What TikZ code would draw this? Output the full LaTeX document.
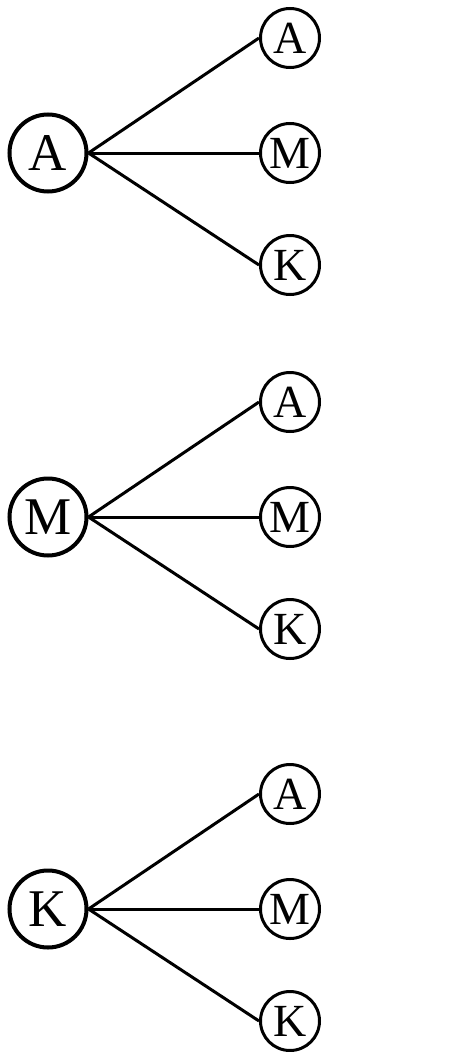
\documentclass[tikz,border=0pt]{standalone}
\usepackage{fontspec}
\setmainfont{Liberation Serif}
\usetikzlibrary{positioning}
\tikzset{
  root/.style={draw=black,circle,line width=4pt,inner sep=0pt,
               minimum size=77pt,font=\fontsize{53}{53}\selectfont},
  leaf/.style={draw=black,circle,line width=3pt,inner sep=0pt,
               minimum size=59pt,font=\fontsize{46}{46}\selectfont},
  link/.style={black,line width=3pt},
}
\begin{document}
\begin{tikzpicture}[x=1pt,y=-1pt]
  \path[use as bounding box] (0,0) rectangle (464,1052);

  % one tree per first letter
  \foreach \r/\y in {A/153,M/517,K/909}{
    \node[root] (root\r) at (48,\y) {\r};
    \node[leaf] (leaf\r A) at (290,\y-115) {A};
    \node[leaf] (leaf\r M) at (290,\y) {M};
    \node[leaf] (leaf\r K) at (290,\y+112) {K};
    \draw[link] (root\r.east) -- (leaf\r A.west);
    \draw[link] (root\r.east) -- (leaf\r M.west);
    \draw[link] (root\r.east) -- (leaf\r K.west);
  }
\end{tikzpicture}
\end{document}
